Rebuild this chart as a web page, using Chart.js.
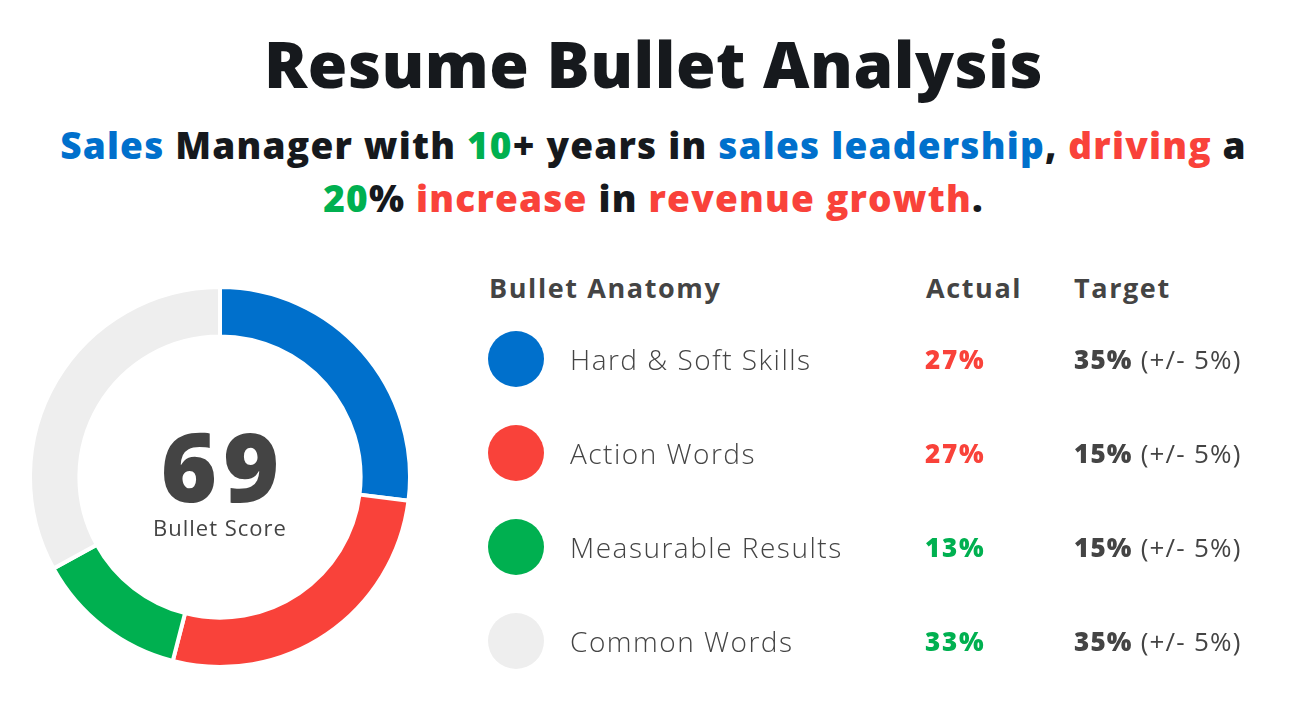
<!DOCTYPE html>
<html>
<head>
<meta charset="utf-8">
<script src="https://cdn.jsdelivr.net/npm/chart.js@4.4.0/dist/chart.umd.min.js"></script>
<style>
  body { margin: 0; background: #fff; font-family: "Open Sans", sans-serif; width: 1307px; height: 707px; overflow: hidden; position: relative; }
  .title { position: absolute; left: 0; width: 1307px; top: 20px; text-align: center; font-size: 64px; font-weight: 800; color: #16191d; letter-spacing: 0.5px; }
  .sub { position: absolute; left: 0; width: 1307px; top: 118px; text-align: center; font-size: 37px; font-weight: 800; line-height: 53px; color: #16191d; letter-spacing: 1.2px; }
  .b { color: #0070cc; } .r { color: #f9423a; } .g { color: #00b050; }
  .chartbox { position: absolute; left: 28px; top: 285px; width: 384px; height: 384px; }
  .score { position: absolute; left: 100px; width: 240px; top: 430px; text-align: center; font-size: 96px; font-weight: 800; color: #444; line-height: 70px; height: 70px; letter-spacing: 6px; text-indent: 6px; }
  .scorelbl { position: absolute; left: 90px; width: 260px; top: 513px; text-align: center; font-size: 22px; line-height: 28px; font-weight: 400; color: #444; letter-spacing: 1px; }
  .hdr { position: absolute; top: 269px; font-size: 27px; font-weight: 700; color: #444; letter-spacing: 1.6px; }
  .row { position: absolute; left: 0; width: 1307px; height: 56px; }
  .dot { position: absolute; left: 488px; top: 0; width: 56px; height: 56px; border-radius: 50%; }
  .lbl { position: absolute; left: 570px; top: 9px; font-size: 28px; font-weight: 300; color: #444; letter-spacing: 1.5px; }
  .act { position: absolute; left: 925px; top: 10px; font-size: 26px; font-weight: 800; letter-spacing: 1.8px; }
  .tgt { position: absolute; left: 1074px; top: 10px; font-size: 26px; color: #444; font-weight: 400; letter-spacing: 1.2px; }
  .tgt b { font-weight: 800; }
</style>
</head>
<body>
<div class="title">Resume Bullet Analysis</div>
<div class="sub"><span class="b">Sales</span> Manager with <span class="g">10</span>+ years in <span class="b">sales leadership</span>, <span class="r">driving</span> a<br><span class="g">20</span>% <span class="r">increase</span> in <span class="r">revenue growth</span>.</div>

<div class="chartbox"><canvas id="donut"></canvas></div>
<div class="score" id="score"></div>
<div class="scorelbl">Bullet Score</div>

<div class="hdr" style="left:489px">Bullet Anatomy</div>
<div class="hdr" style="left:926px">Actual</div>
<div class="hdr" style="left:1074px">Target</div>
<div id="rows"></div>

<script>
// chart data
var categories = ["Hard & Soft Skills", "Action Words", "Measurable Results", "Common Words"];
var actual = [27, 27, 13, 33];
var target = [35, 15, 15, 35];
var tolerance = 5;
var colors = ["#0070cc", "#f9423a", "#00b050", "#eeeeee"];
var bulletScore = 69;

document.getElementById("score").textContent = bulletScore;

// table rows next to the chart
var rowsEl = document.getElementById("rows");
var rowTop = [331, 425, 519, 613];
for (let i = 0; i < categories.length; i++) {
  var ok = Math.abs(actual[i] - target[i]) <= tolerance;
  var row = document.createElement("div");
  row.className = "row";
  row.style.top = rowTop[i] + "px";
  row.innerHTML =
    '<div class="dot" style="background:' + colors[i] + '"></div>' +
    '<div class="lbl"></div>' +
    '<div class="act" style="color:' + (ok ? "#00b050" : "#f9423a") + '">' + actual[i] + '%</div>' +
    '<div class="tgt"><b>' + target[i] + '%</b> (+/- ' + tolerance + '%)</div>';
  row.querySelector(".lbl").textContent = categories[i];
  rowsEl.appendChild(row);
}

const ctx = document.getElementById("donut").getContext("2d");
const myChart = new Chart(ctx, {
  type: "doughnut",
  data: {
    labels: categories,
    datasets: [
      {
        data: actual,
        backgroundColor: colors,
        borderColor: "#ffffff",
        borderWidth: 4,
        hoverOffset: 0,
      },
    ],
  },
  options: {
    responsive: true,
    maintainAspectRatio: false,
    animation: false,
    cutout: "74%",
    plugins: {
      legend: { display: false },
      tooltip: { enabled: false },
    },
  },
});
</script>
</body>
</html>
